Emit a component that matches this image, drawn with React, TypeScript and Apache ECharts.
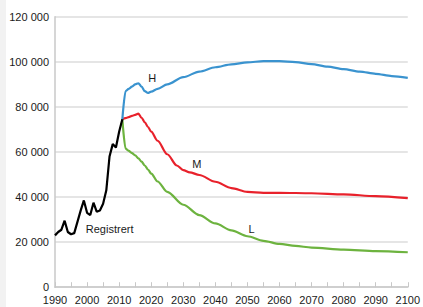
import React, { useEffect, useRef } from "react";
import * as echarts from "echarts";

const regYears = [1990,1991,1992,1993,1994,1995,1996,1997,1998,1999,2000,2001,2002,2003,2004,2005,2006,2007,2008,2009,2010,2011];
const regValues = [23000,24500,25500,29500,24500,23500,24000,29000,34000,38500,33000,32000,37500,33500,34000,37000,43000,58000,63500,62000,69000,74500];

const hYears = [2011,2012,2013,2014,2015,2016,2017,2018,2019,2020,2022,2025,2030,2035,2040,2045,2050,2055,2060,2065,2070,2075,2080,2085,2090,2095,2100];
const hValues = [74500,87000,88000,89000,90000,90500,89000,87000,86200,86800,88000,90000,93200,95700,97600,98900,99800,100300,100300,99900,99000,97900,96800,95700,94700,93700,92900];

const mYears = [2011,2012,2013,2014,2015,2016,2017,2018,2019,2020,2022,2025,2028,2030,2032,2035,2040,2045,2050,2055,2060,2070,2080,2090,2100];
const mValues = [74500,75000,75500,76000,76500,77000,75200,73200,71100,69000,65000,59000,54000,52000,51000,49800,46800,44000,42300,41900,41900,41700,41200,40400,39500];

const lYears = [2011,2012,2013,2014,2015,2016,2017,2018,2019,2020,2022,2025,2030,2035,2040,2045,2050,2055,2060,2065,2070,2080,2090,2100];
const lValues = [74500,61500,60500,59500,58500,57200,55700,54000,52200,50400,46900,42300,36600,32000,28300,25200,22600,20600,19200,18300,17600,16700,16000,15500];

const yTicks = [0, 20000, 40000, 60000, 80000, 100000, 120000];

const zip = (xs: number[], ys: number[]) => xs.map((x, i) => [x, ys[i]]);

const fmt = (v: number) => {
  if (v === 0) return "0";
  const s = String(v);
  return s.slice(0, s.length - 3) + " " + s.slice(-3);
};

const labelPoint = (text: string, coord: number[], align: string = "center") => ({
  symbol: "circle",
  symbolSize: 0,
  silent: true,
  label: {
    show: true,
    position: "inside",
    formatter: text,
    color: "#1a1a1a",
    fontSize: 11,
    fontFamily: "Liberation Sans, Arial, sans-serif",
    align,
  },
  data: [{ coord }],
});

export default function App() {
  const ref = useRef<HTMLDivElement>(null);
  useEffect(() => {
    if (!ref.current) return;
    const chart = echarts.init(ref.current, undefined, { renderer: "svg" });
    const lineBase = {
      type: "line",
      showSymbol: false,
      symbol: "none",
      smooth: 0.3,
      smoothMonotone: "x",
    };
    chart.setOption({
      animation: false,
      backgroundColor: "#ffffff",
      textStyle: { fontFamily: "Liberation Sans, Arial, sans-serif" },
      graphic: [
        { type: "rect", shape: { x: 0, y: 0, width: 6, height: 307 }, style: { fill: "#f2f2f2" }, silent: true },
      ],
      grid: { left: 55, right: 13.5, top: 16.8, bottom: 19.8 },
      xAxis: {
        type: "value",
        min: 1990,
        max: 2100,
        interval: 5,
        axisLine: { show: true, lineStyle: { color: "#c8c8c8", width: 1.5 } },
        axisTick: { show: true, inside: true, length: 5, lineStyle: { color: "#c8c8c8", width: 1 } },
        axisLabel: {
          margin: 7,
          color: "#1a1a1a",
          fontSize: 11,
          formatter: (v: number) => (v % 10 === 0 ? String(v) : ""),
          hideOverlap: false,
        },
        splitLine: { show: false },
      },
      yAxis: {
        type: "value",
        min: yTicks[0],
        max: yTicks[yTicks.length - 1],
        interval: 20000,
        axisLine: { show: true, lineStyle: { color: "#c8c8c8", width: 1.5 } },
        axisTick: { show: false },
        axisLabel: { margin: 6, color: "#1a1a1a", fontSize: 11, formatter: (v: number) => fmt(v) },
        splitLine: { show: true, lineStyle: { color: "#dcdcdc", width: 1.5 } },
      },
      series: [
        {
          ...lineBase,
          name: "L",
          data: zip(lYears, lValues),
          lineStyle: { color: "#6db33f", width: 2.2 },
          markPoint: labelPoint("L", [2051.3, 25700]),
        },
        {
          ...lineBase,
          name: "M",
          data: zip(mYears, mValues),
          lineStyle: { color: "#e8212b", width: 2.2 },
          markPoint: labelPoint("M", [2034.2, 54600]),
        },
        {
          ...lineBase,
          name: "H",
          data: zip(hYears, hValues),
          lineStyle: { color: "#3a93cf", width: 2.2 },
          markPoint: labelPoint("H", [2020.3, 92800]),
        },
        {
          ...lineBase,
          smooth: false,
          name: "Registrert",
          data: zip(regYears, regValues),
          lineStyle: { color: "#000000", width: 2.2 },
          markPoint: labelPoint("Registrert", [1999.6, 26000], "left"),
        },
      ],
    });
    return () => chart.dispose();
  }, []);
  return (
    <div
      ref={ref}
      style={{ position: "fixed", left: 0, top: 0, width: 423, height: 307 }}
    />
  );
}
